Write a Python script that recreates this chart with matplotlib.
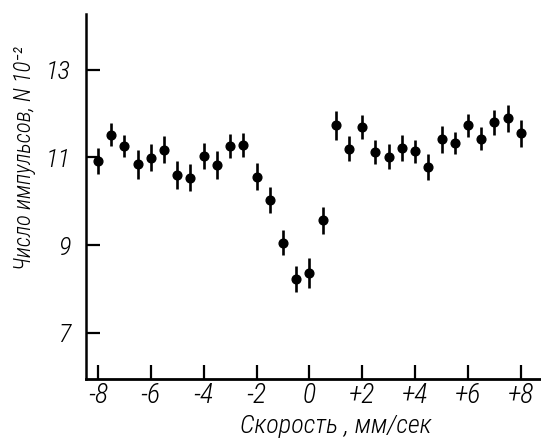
import matplotlib.pyplot as plt
import numpy as np

# velocity, mm/s (step 0.5)
velocity = np.arange(-8.0, 8.01, 0.5)
counts = [10.92, 11.52, 11.26, 10.84, 10.99, 11.18, 10.60, 10.54, 11.03, 10.82,
          11.26, 11.28, 10.56, 10.03, 9.06, 8.23, 8.36, 9.57, 11.73, 11.20,
          11.69, 11.12, 11.02, 11.22, 11.14, 10.78, 11.41, 11.33, 11.73, 11.43,
          11.80, 11.89, 11.55]
errors = [0.30, 0.27, 0.25, 0.32, 0.31, 0.30, 0.32, 0.30, 0.29, 0.32,
          0.28, 0.28, 0.31, 0.30, 0.28, 0.30, 0.34, 0.31, 0.34, 0.29,
          0.28, 0.27, 0.28, 0.29, 0.26, 0.29, 0.30, 0.26, 0.27, 0.27,
          0.28, 0.31, 0.31]

xticks = [-8, -6, -4, -2, 0, 2, 4, 6, 8]
xtick_labels = ["-8", "-6", "-4", "-2", "0", "+2", "+4", "+6", "+8"]
yticks = [7, 9, 11, 13]
ytick_labels = ["7", "9", "11", "13"]

font = ["Roboto Condensed", "DejaVu Sans"]
plt.rcParams["font.family"] = font
plt.rcParams["font.style"] = "italic"
plt.rcParams["font.weight"] = "light"

fig = plt.figure(figsize=(5.41, 4.42), dpi=100)
ax = fig.add_axes([86 / 541, 1 - 379 / 442, 1 - 86 / 541, (379 - 14) / 442])

ax.errorbar(velocity, counts, yerr=errors, fmt="o", color="black",
            markersize=6.3, elinewidth=1.9, capsize=0)

ax.set_xlim(-8.45, 8.76)
ax.set_ylim(5.95, 14.27)

ax.spines["top"].set_visible(False)
ax.spines["right"].set_visible(False)
ax.spines["left"].set_linewidth(1.8)
ax.spines["bottom"].set_linewidth(2.0)

ax.set_xticks(xticks)
ax.set_xticklabels(xtick_labels, fontsize=20)
ax.set_yticks(yticks)
ax.set_yticklabels(ytick_labels, fontsize=19)
ax.tick_params(axis="both", direction="in", length=10, width=1.6)
ax.tick_params(axis="x", pad=2)
ax.tick_params(axis="y", pad=11)

fig.text(25 / 541, 1 - 158 / 442, "Число импульсов, N 10⁻²", rotation=90,
         ha="center", va="center", fontsize=16.5, family=font, style="italic",
         weight="light")
fig.text(336 / 541, 1 - 426 / 442, "Скорость , мм/сек",
         ha="center", va="center", fontsize=19, family=font, style="italic",
         weight="light")

fig.savefig("out.png", dpi=100)
